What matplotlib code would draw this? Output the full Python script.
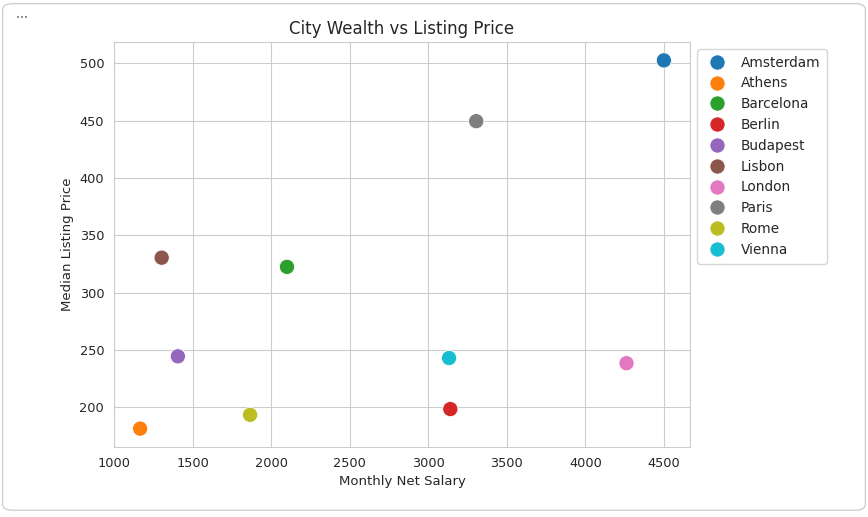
import matplotlib
matplotlib.use("Agg")
import matplotlib.pyplot as plt
from matplotlib.patches import FancyBboxPatch
import seaborn as sns

cities = ["Amsterdam", "Athens", "Barcelona", "Berlin", "Budapest",
          "Lisbon", "London", "Paris", "Rome", "Vienna"]
salary = [4500, 1165, 2100, 3140, 1405, 1302, 4262, 3305, 1865, 3132]
price = [502.5, 181.5, 322.5, 198.5, 244.5, 330.5, 238.5, 449.5, 193.5, 243.0]

sns.set_style("whitegrid")
plt.rcParams["font.family"] = ["DejaVu Sans"]

fig = plt.figure(figsize=(8.68, 5.17), dpi=100)
ax = fig.add_axes([0.1313, 0.1354, 0.6637, 0.7834])

sns.scatterplot(x=salary, y=price, hue=cities, s=120, ax=ax,
                palette="tab10", edgecolor="white", linewidth=0.6)

ax.set_title("City Wealth vs Listing Price", fontsize=12)
ax.set_xlabel("Monthly Net Salary", fontsize=9.5)
ax.set_ylabel("Median Listing Price", fontsize=9.5)
ax.tick_params(labelsize=9.3)
ax.set_xticks([1000, 1500, 2000, 2500, 3000, 3500, 4000, 4500])

leg = ax.legend(loc="upper left", bbox_to_anchor=(1.0, 1.0),
                fontsize=9.8, markerscale=1.0, handletextpad=0.7,
                labelspacing=0.5, borderpad=0.5, frameon=True)
leg.get_frame().set_edgecolor("#cccccc")

# outer card border and menu dots from the reference screenshot
fig.patches.append(FancyBboxPatch((0.003, 0.013), 0.994, 0.98,
                                  boxstyle="round,pad=0,rounding_size=0.012",
                                  transform=fig.transFigure, fill=False,
                                  edgecolor="#cfcfcf", linewidth=1.0))
fig.text(0.018, 0.962, "•••", fontsize=5, color="#777777")

fig.savefig("out.png", dpi=100)
